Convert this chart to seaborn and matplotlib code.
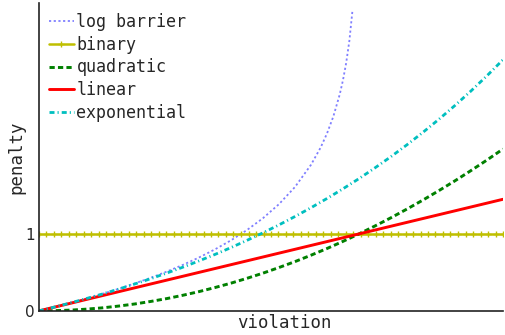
"""Penalty functions vs. constraint violation."""

import matplotlib
matplotlib.use("Agg")
import matplotlib.pyplot as plt
import seaborn as sns

# values
curve_x = [0.0, 0.05, 0.1, 0.15, 0.2, 0.25, 0.3, 0.35, 0.4, 0.45, 0.5, 0.55, 0.6, 0.65, 0.7,
           0.75, 0.8, 0.85, 0.9, 0.95, 1.0, 1.05, 1.1, 1.15, 1.2, 1.25, 1.3, 1.35, 1.4, 1.45]
linear = [0.0, 0.05, 0.1, 0.15, 0.2, 0.25, 0.3, 0.35, 0.4, 0.45, 0.5, 0.55, 0.6, 0.65, 0.7,
          0.75, 0.8, 0.85, 0.9, 0.95, 1.0, 1.05, 1.1, 1.15, 1.2, 1.25, 1.3, 1.35, 1.4, 1.45]
quadratic = [0.0, 0.003, 0.01, 0.023, 0.04, 0.063, 0.09, 0.123, 0.16, 0.203, 0.25, 0.303, 0.36,
             0.423, 0.49, 0.563, 0.64, 0.723, 0.81, 0.903, 1.0, 1.103, 1.21, 1.323, 1.44, 1.563,
             1.69, 1.823, 1.96, 2.103]
exponential = [0.0, 0.051, 0.105, 0.162, 0.221, 0.284, 0.35, 0.419, 0.492, 0.568, 0.649, 0.733,
               0.822, 0.916, 1.014, 1.117, 1.226, 1.34, 1.46, 1.586, 1.718, 1.858, 2.004, 2.158,
               2.32, 2.49, 2.669, 2.857, 3.055, 3.263]

barrier_x = [0.0, 0.05, 0.1, 0.15, 0.2, 0.25, 0.3, 0.35, 0.4, 0.45, 0.5, 0.55, 0.6, 0.65, 0.7,
             0.75, 0.8, 0.85, 0.88, 0.9, 0.92, 0.94, 0.95, 0.96, 0.97, 0.98]
log_barrier = [0.0, 0.051, 0.105, 0.163, 0.223, 0.288, 0.357, 0.431, 0.511, 0.598, 0.693, 0.799,
               0.916, 1.05, 1.204, 1.386, 1.609, 1.897, 2.12, 2.303, 2.526, 2.813, 2.996, 3.219,
               3.507, 3.912]

binary_x = [0.0, 0.023, 0.047, 0.07, 0.094, 0.117, 0.14, 0.164, 0.187, 0.21, 0.234, 0.257,
            0.281, 0.304, 0.327, 0.351, 0.374, 0.398, 0.421, 0.444, 0.468, 0.491, 0.515, 0.538,
            0.561, 0.585, 0.608, 0.631, 0.655, 0.678, 0.702, 0.725, 0.748, 0.772, 0.795, 0.818,
            0.842, 0.865, 0.889, 0.912, 0.935, 0.959, 0.982, 1.006, 1.029, 1.052, 1.076, 1.099,
            1.123, 1.146, 1.169, 1.193, 1.216, 1.239, 1.263, 1.286, 1.31, 1.333, 1.356, 1.38,
            1.403, 1.427, 1.45]
binary = [1, 1, 1, 1, 1, 1, 1, 1, 1, 1, 1, 1, 1, 1, 1, 1, 1, 1, 1, 1, 1, 1, 1, 1, 1, 1, 1, 1,
          1, 1, 1, 1, 1, 1, 1, 1, 1, 1, 1, 1, 1, 1, 1, 1, 1, 1, 1, 1, 1, 1, 1, 1, 1, 1, 1, 1, 1,
          1, 1, 1, 1, 1, 1]

y_ticks = [0, 1]

sns.set_style("white")
plt.rcParams["font.family"] = ["DejaVu Sans"]

fig = plt.figure(figsize=(5.05, 3.35), dpi=100)
ax = fig.add_axes([0.077, 0.072, 0.919, 0.919])

sns.lineplot(x=barrier_x, y=log_barrier, ax=ax, color="b", alpha=0.5,
             linestyle=(0, (1.2, 1.4)), linewidth=1.3, label="log barrier", sort=False)
sns.lineplot(x=binary_x, y=binary, ax=ax, color="y", marker="+", markersize=4.5,
             markeredgewidth=1.0, markeredgecolor="y", linewidth=1.8, label="binary", sort=False)
sns.lineplot(x=curve_x, y=quadratic, ax=ax, color="g", linestyle=(0, (1.8, 1.1)), linewidth=2.1,
             label="quadratic", sort=False)
sns.lineplot(x=curve_x, y=linear, ax=ax, color="r", linewidth=2.1, label="linear", sort=False)
sns.lineplot(x=curve_x, y=exponential, ax=ax, color="c", linestyle=(0, (1.8, 1.1, 0.4, 1.1)),
             linewidth=2, label="exponential", sort=False)

ax.set_xlim(0, 1.45)
ax.set_ylim(0, 4)
ax.set_xticks([])
ax.set_yticks(y_ticks)
ax.tick_params(axis="y", length=0, labelsize=11, pad=3)
ax.set_xlabel("violation", family="DejaVu Sans Mono", fontsize=12.5)
ax.set_ylabel("penalty", family="DejaVu Sans Mono", fontsize=12.5, labelpad=0)
ax.xaxis.set_label_coords(0.53, -0.01)
for side in ("left", "bottom"):
    ax.spines[side].set_color("#222222")
    ax.spines[side].set_linewidth(1.2)
sns.despine(ax=ax)

ax.legend(loc="upper left", frameon=False, prop={"family": "DejaVu Sans Mono", "size": 12},
          handlelength=1.5, handletextpad=0.15, labelspacing=0.28, borderaxespad=0.2,
          bbox_to_anchor=(0.0, 1.0))

fig.savefig("out.png", dpi=100)
